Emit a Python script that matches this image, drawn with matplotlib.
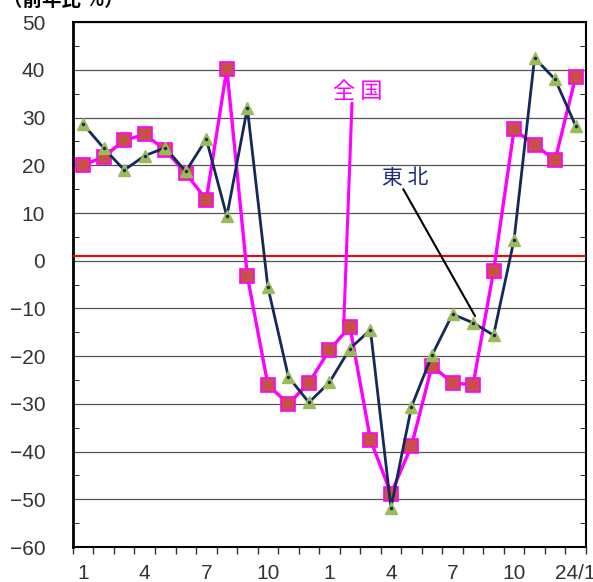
import matplotlib
matplotlib.use('Agg')
import matplotlib.pyplot as plt
from matplotlib.ticker import MultipleLocator, FixedLocator

plt.rcParams['font.family'] = ['Liberation Sans', 'Noto Sans CJK JP', 'DejaVu Sans']

# データ（前年比 %）
x_labels = ['1', '', '', '4', '', '', '7', '', '', '10', '', '', '1', '', '', '4',
            '', '', '7', '', '', '10', '', '', '24/1']
zenkoku = [20, 21.8, 25.2, 26.5, 23.2, 18.3, 12.8, 40.2, -3.2, -26, -30, -25.6,
           -18.7, -13.8, -37.5, -48.8, -38.8, -22, -25.6, -26, -2.2, 27.5, 24.3,
           21.1, 38.5]
tohoku = [28.6, 23.6, 19, 22, 23.7, 18.7, 25.5, 9.3, 32, -5.5, -24.3, -29.7,
          -25.5, -18.4, -14.5, -51.8, -30.6, -19.8, -11.2, -13, -15.6, 4.4, 42.5,
          38, 28.3]
ref_line = 0.9

fig = plt.figure(figsize=(5.93, 5.82), dpi=100)
ax = fig.add_axes([0.123, 0.060, 0.865, 0.902])

xs = list(range(len(zenkoku)))

ax.plot(xs, zenkoku, color='#FF00FF', lw=2.4, marker='s', ms=10,
        mfc='#C8504A', mec='#FF00FF', mew=1.2, zorder=4)
ax.plot(xs, tohoku, color='#14285A', lw=2.0, marker='^', ms=8,
        mfc='#9BBB59', mec='#9BBB59', zorder=5)
ax.plot(xs, tohoku, color='#14285A', lw=0, marker='o', ms=1.5, zorder=6)

ax.axhline(ref_line, color='#FF0000', lw=1.5, zorder=3)

ax.set_xlim(-0.5, len(xs) - 0.5)
ax.set_ylim(-60, 50)

ax.yaxis.set_major_locator(MultipleLocator(10))
ax.yaxis.set_minor_locator(MultipleLocator(5))
ax.grid(axis='y', which='major', color='#555555', lw=0.9)
ax.set_axisbelow(True)

# 目盛り：区切り位置に目盛り線、ラベルは中央
ax.xaxis.set_major_locator(FixedLocator([i - 0.5 for i in range(len(xs) + 1)]))
ax.set_xticklabels([])
ax.xaxis.set_minor_locator(FixedLocator(xs))
ax.set_xticklabels(x_labels, minor=True)
ax.tick_params(axis='x', which='major', direction='out', length=5, width=1, color='#333333')
ax.tick_params(axis='x', which='minor', length=0, pad=12, labelsize=15, labelcolor='#333333')
ax.tick_params(axis='y', which='major', direction='in', length=0, labelsize=15,
               labelcolor='#333333', pad=20)
ax.tick_params(axis='y', which='minor', direction='in', length=4, right=True)

for s in ['left', 'bottom', 'top', 'right']:
    ax.spines[s].set_color('black')
ax.spines['left'].set_linewidth(2)
ax.spines['bottom'].set_linewidth(1.5)
ax.spines['top'].set_linewidth(1.5)
ax.spines['right'].set_linewidth(1.5)

# 注釈
cjk = ['Noto Sans CJK JP', 'DejaVu Sans']
ax.text(13.4, 35.5, '全 国', color='#FF00FF', fontsize=16, ha='center', va='center',
        family=cjk)
ax.annotate('', xy=(12.7, -13.2), xytext=(13.1, 33.0),
            arrowprops=dict(arrowstyle='-', color='#FF00FF', lw=2.2,
                            shrinkA=0, shrinkB=0))
ax.text(15.7, 17.3, '東 北', color='#1F2D7A', fontsize=15, ha='center', va='center',
        family=cjk)
ax.annotate('', xy=(19.1, -11.6), xytext=(15.6, 15.0),
            arrowprops=dict(arrowstyle='-', color='black', lw=1.5,
                            shrinkA=0, shrinkB=0))

fig.text(0.005, 1.0, '（前年比 %）', fontsize=14, fontweight='bold',
         ha='left', va='center', family=cjk)

fig.savefig('out.png', dpi=100, facecolor='white')
